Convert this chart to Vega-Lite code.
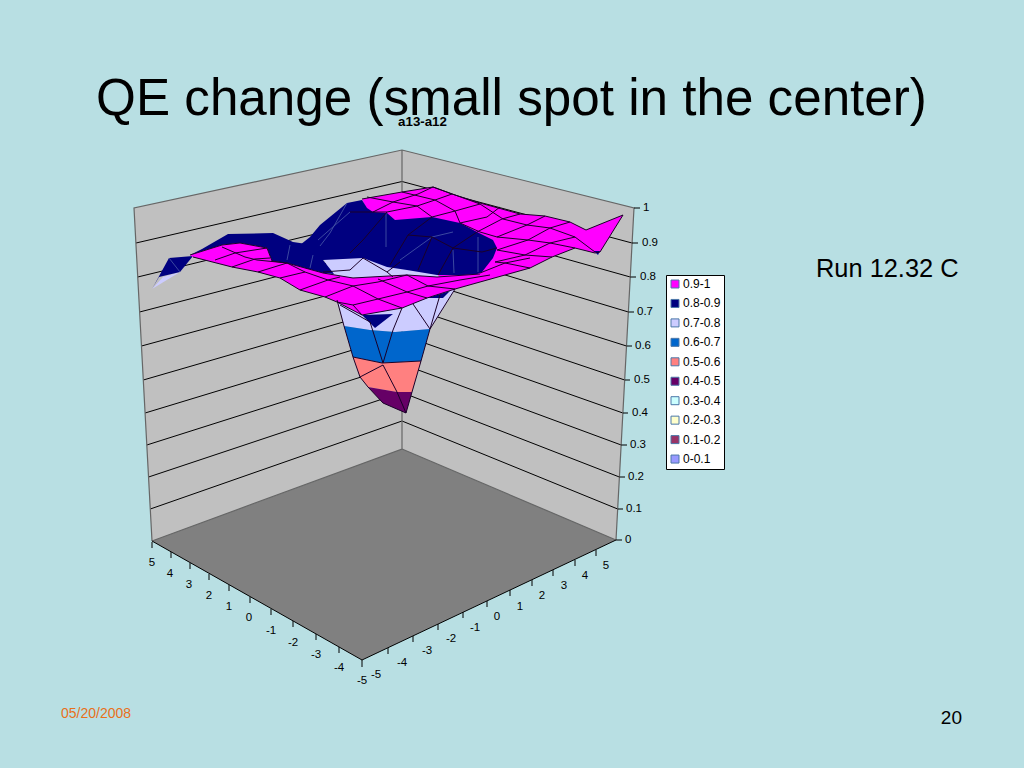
{"$schema":"https://vega.github.io/schema/vega-lite/v6.json","width":1024,"height":768,"padding":0,"autosize":{"type":"none"},"background":"#B8DFE3","config":{"view":{"stroke":null}},
"encoding":{"x":{"field":"a","type":"quantitative","scale":{"domain":[0,1024],"nice":false,"zero":false},"axis":null},"y":{"field":"b","type":"quantitative","scale":{"domain":[768,0],"nice":false,"zero":false},"axis":null}},
"datasets":{
"back":[
{"p":"wl","i":0,"a":402,"b":150,"k":"wall"},{"p":"wl","i":1,"a":134,"b":208,"k":"wall"},{"p":"wl","i":2,"a":152,"b":541,"k":"wall"},{"p":"wl","i":3,"a":402,"b":449,"k":"wall"},{"p":"wl","i":4,"a":402,"b":150,"k":"wall"},
{"p":"wr","i":0,"a":402,"b":150,"k":"wall"},{"p":"wr","i":1,"a":634,"b":208,"k":"wall"},{"p":"wr","i":2,"a":616,"b":540,"k":"wall"},{"p":"wr","i":3,"a":402,"b":449,"k":"wall"},{"p":"wr","i":4,"a":402,"b":150,"k":"wall"},
{"p":"fl","i":0,"a":402,"b":449,"k":"floor"},{"p":"fl","i":1,"a":616,"b":540,"k":"floor"},{"p":"fl","i":2,"a":362,"b":660,"k":"floor"},{"p":"fl","i":3,"a":152,"b":541,"k":"floor"},{"p":"fl","i":4,"a":402,"b":449,"k":"floor"}],
"grid":[
{"p":"l1","i":0,"a":150.3,"b":509},{"p":"l1","i":1,"a":402,"b":421},{"p":"l1","i":2,"a":617.7,"b":509},
{"p":"l2","i":0,"a":148.6,"b":477},{"p":"l2","i":1,"a":402,"b":392.5},{"p":"l2","i":2,"a":619.4,"b":477},
{"p":"l3","i":0,"a":146.8,"b":445},{"p":"l3","i":1,"a":402,"b":364},{"p":"l3","i":2,"a":621.2,"b":445},
{"p":"l4","i":0,"a":145.1,"b":413},{"p":"l4","i":1,"a":402,"b":335},{"p":"l4","i":2,"a":622.9,"b":413},
{"p":"l5","i":0,"a":143.3,"b":380},{"p":"l5","i":1,"a":402,"b":305},{"p":"l5","i":2,"a":624.7,"b":380},
{"p":"l6","i":0,"a":141.5,"b":346},{"p":"l6","i":1,"a":402,"b":275},{"p":"l6","i":2,"a":626.5,"b":346},
{"p":"l7","i":0,"a":139.6,"b":312},{"p":"l7","i":1,"a":402,"b":244},{"p":"l7","i":2,"a":628.4,"b":312},
{"p":"l8","i":0,"a":137.7,"b":277},{"p":"l8","i":1,"a":402,"b":213},{"p":"l8","i":2,"a":630.3,"b":277},
{"p":"l9","i":0,"a":136,"b":243},{"p":"l9","i":1,"a":402,"b":181.5},{"p":"l9","i":2,"a":632,"b":243}],
"frame":[
{"p":"e1","i":0,"a":152,"b":541},{"p":"e1","i":1,"a":134,"b":208},{"p":"e1","i":2,"a":402,"b":150},{"p":"e1","i":3,"a":634,"b":208},{"p":"e1","i":4,"a":616,"b":540},
{"p":"e2","i":0,"a":402,"b":150},{"p":"e2","i":1,"a":402,"b":449},{"p":"e2","i":2,"a":152,"b":541},{"p":"e3","i":0,"a":402,"b":449},{"p":"e3","i":1,"a":616,"b":540}],
"axes":[
{"p":"f","i":0,"a":152,"b":541},{"p":"f","i":1,"a":362,"b":660},{"p":"f","i":2,"a":616,"b":540},
{"p":"z0","i":0,"a":616,"b":540},{"p":"z0","i":1,"a":622,"b":540},{"p":"z1","i":0,"a":617.7,"b":509},{"p":"z1","i":1,"a":623,"b":509},{"p":"z2","i":0,"a":619.4,"b":477},{"p":"z2","i":1,"a":625,"b":477},{"p":"z3","i":0,"a":621.2,"b":445},{"p":"z3","i":1,"a":627,"b":445},{"p":"z4","i":0,"a":622.9,"b":413},{"p":"z4","i":1,"a":628,"b":413},{"p":"z5","i":0,"a":624.7,"b":380},{"p":"z5","i":1,"a":630,"b":380},{"p":"z6","i":0,"a":626.5,"b":346},{"p":"z6","i":1,"a":632,"b":346},{"p":"z7","i":0,"a":628.4,"b":312},{"p":"z7","i":1,"a":634,"b":312},{"p":"z8","i":0,"a":630.3,"b":277},{"p":"z8","i":1,"a":636,"b":277},{"p":"z9","i":0,"a":632,"b":243},{"p":"z9","i":1,"a":638,"b":243},{"p":"z10","i":0,"a":634,"b":208},{"p":"z10","i":1,"a":640,"b":208},
{"p":"x0","i":0,"a":152,"b":542},{"p":"x0","i":1,"a":152,"b":548},{"p":"x1","i":0,"a":171,"b":552},{"p":"x1","i":1,"a":171,"b":558},{"p":"x2","i":0,"a":190,"b":563},{"p":"x2","i":1,"a":190,"b":569},{"p":"x3","i":0,"a":209,"b":574},{"p":"x3","i":1,"a":209,"b":580},{"p":"x4","i":0,"a":229,"b":585},{"p":"x4","i":1,"a":229,"b":591},{"p":"x5","i":0,"a":250,"b":597},{"p":"x5","i":1,"a":250,"b":603},{"p":"x6","i":0,"a":271,"b":609},{"p":"x6","i":1,"a":271,"b":615},{"p":"x7","i":0,"a":293,"b":621},{"p":"x7","i":1,"a":293,"b":627},{"p":"x8","i":0,"a":316,"b":634},{"p":"x8","i":1,"a":316,"b":640},{"p":"x9","i":0,"a":339,"b":647},{"p":"x9","i":1,"a":339,"b":653},{"p":"x10","i":0,"a":362,"b":660},{"p":"x10","i":1,"a":362,"b":667},
{"p":"y1","i":0,"a":388,"b":648},{"p":"y1","i":1,"a":388,"b":654},{"p":"y2","i":0,"a":413,"b":636},{"p":"y2","i":1,"a":413,"b":642},{"p":"y3","i":0,"a":438,"b":624},{"p":"y3","i":1,"a":438,"b":630},{"p":"y4","i":0,"a":463,"b":612},{"p":"y4","i":1,"a":463,"b":618},{"p":"y5","i":0,"a":487,"b":601},{"p":"y5","i":1,"a":487,"b":607},{"p":"y6","i":0,"a":510,"b":590},{"p":"y6","i":1,"a":510,"b":596},{"p":"y7","i":0,"a":532,"b":580},{"p":"y7","i":1,"a":532,"b":586},{"p":"y8","i":0,"a":553,"b":570},{"p":"y8","i":1,"a":553,"b":576},{"p":"y9","i":0,"a":575,"b":560},{"p":"y9","i":1,"a":575,"b":566},{"p":"y10","i":0,"a":596,"b":550},{"p":"y10","i":1,"a":596,"b":556}],
"surface":[
{"p":"c1","i":0,"a":337,"b":298,"k":"0.7-0.8"},{"p":"c1","i":1,"a":344,"b":326,"k":"0.7-0.8"},{"p":"c1","i":2,"a":370,"b":330,"k":"0.7-0.8"},{"p":"c1","i":3,"a":395,"b":332,"k":"0.7-0.8"},{"p":"c1","i":4,"a":430,"b":329,"k":"0.7-0.8"},{"p":"c1","i":5,"a":456,"b":288,"k":"0.7-0.8"},
{"p":"c2","i":0,"a":344,"b":326,"k":"0.6-0.7"},{"p":"c2","i":1,"a":353,"b":357,"k":"0.6-0.7"},{"p":"c2","i":2,"a":382,"b":363,"k":"0.6-0.7"},{"p":"c2","i":3,"a":421,"b":361,"k":"0.6-0.7"},{"p":"c2","i":4,"a":430,"b":329,"k":"0.6-0.7"},{"p":"c2","i":5,"a":395,"b":332,"k":"0.6-0.7"},{"p":"c2","i":6,"a":370,"b":330,"k":"0.6-0.7"},
{"p":"c3","i":0,"a":353,"b":357,"k":"0.5-0.6"},{"p":"c3","i":1,"a":360,"b":377,"k":"0.5-0.6"},{"p":"c3","i":2,"a":368,"b":387,"k":"0.5-0.6"},{"p":"c3","i":3,"a":397,"b":392,"k":"0.5-0.6"},{"p":"c3","i":4,"a":412,"b":392,"k":"0.5-0.6"},{"p":"c3","i":5,"a":421,"b":361,"k":"0.5-0.6"},{"p":"c3","i":6,"a":382,"b":363,"k":"0.5-0.6"},
{"p":"c4","i":0,"a":368,"b":387,"k":"0.4-0.5"},{"p":"c4","i":1,"a":383,"b":403,"k":"0.4-0.5"},{"p":"c4","i":2,"a":406,"b":413,"k":"0.4-0.5"},{"p":"c4","i":3,"a":412,"b":392,"k":"0.4-0.5"},{"p":"c4","i":4,"a":397,"b":392,"k":"0.4-0.5"},
{"p":"m1","i":0,"a":362,"b":199,"k":"0.9-1"},{"p":"m1","i":1,"a":402,"b":192,"k":"0.9-1"},{"p":"m1","i":2,"a":433,"b":187,"k":"0.9-1"},{"p":"m1","i":3,"a":452,"b":194,"k":"0.9-1"},{"p":"m1","i":4,"a":480,"b":203,"k":"0.9-1"},{"p":"m1","i":5,"a":520,"b":214,"k":"0.9-1"},{"p":"m1","i":6,"a":545,"b":216,"k":"0.9-1"},{"p":"m1","i":7,"a":570,"b":222,"k":"0.9-1"},{"p":"m1","i":8,"a":586,"b":230,"k":"0.9-1"},{"p":"m1","i":9,"a":623,"b":215,"k":"0.9-1"},{"p":"m1","i":10,"a":600,"b":252,"k":"0.9-1"},{"p":"m1","i":11,"a":595,"b":253,"k":"0.9-1"},{"p":"m1","i":12,"a":575,"b":248,"k":"0.9-1"},{"p":"m1","i":13,"a":552,"b":257,"k":"0.9-1"},{"p":"m1","i":14,"a":530,"b":268,"k":"0.9-1"},{"p":"m1","i":15,"a":505,"b":275,"k":"0.9-1"},{"p":"m1","i":16,"a":480,"b":280,"k":"0.9-1"},{"p":"m1","i":17,"a":440,"b":277,"k":"0.9-1"},{"p":"m1","i":18,"a":400,"b":240,"k":"0.9-1"},{"p":"m1","i":19,"a":367,"b":210,"k":"0.9-1"},
{"p":"n0","i":0,"a":594,"b":251,"k":"0.8-0.9"},{"p":"n0","i":1,"a":600,"b":251,"k":"0.8-0.9"},{"p":"n0","i":2,"a":598,"b":255,"k":"0.8-0.9"},
{"p":"lb","i":0,"a":307,"b":240,"k":"0.7-0.8"},{"p":"lb","i":1,"a":310,"b":237,"k":"0.7-0.8"},{"p":"lb","i":2,"a":316,"b":243,"k":"0.7-0.8"},
{"p":"la","i":0,"a":323,"b":258,"k":"0.7-0.8"},{"p":"la","i":1,"a":363,"b":256,"k":"0.7-0.8"},{"p":"la","i":2,"a":387,"b":266,"k":"0.7-0.8"},{"p":"la","i":3,"a":437,"b":274,"k":"0.7-0.8"},{"p":"la","i":4,"a":440,"b":279,"k":"0.7-0.8"},{"p":"la","i":5,"a":333,"b":277,"k":"0.7-0.8"},
{"p":"n1","i":0,"a":310,"b":237,"k":"0.8-0.9"},{"p":"n1","i":1,"a":320,"b":225,"k":"0.8-0.9"},{"p":"n1","i":2,"a":347,"b":203,"k":"0.8-0.9"},{"p":"n1","i":3,"a":362,"b":200,"k":"0.8-0.9"},{"p":"n1","i":4,"a":367,"b":208,"k":"0.8-0.9"},{"p":"n1","i":5,"a":373,"b":212,"k":"0.8-0.9"},{"p":"n1","i":6,"a":387,"b":213,"k":"0.8-0.9"},{"p":"n1","i":7,"a":395,"b":220,"k":"0.8-0.9"},{"p":"n1","i":8,"a":432,"b":217,"k":"0.8-0.9"},{"p":"n1","i":9,"a":460,"b":223,"k":"0.8-0.9"},{"p":"n1","i":10,"a":477,"b":232,"k":"0.8-0.9"},{"p":"n1","i":11,"a":493,"b":240,"k":"0.8-0.9"},{"p":"n1","i":12,"a":497,"b":248,"k":"0.8-0.9"},{"p":"n1","i":13,"a":493,"b":258,"k":"0.8-0.9"},{"p":"n1","i":14,"a":482,"b":272,"k":"0.8-0.9"},{"p":"n1","i":15,"a":475,"b":275,"k":"0.8-0.9"},{"p":"n1","i":16,"a":437,"b":275,"k":"0.8-0.9"},{"p":"n1","i":17,"a":407,"b":270,"k":"0.8-0.9"},{"p":"n1","i":18,"a":387,"b":267,"k":"0.8-0.9"},{"p":"n1","i":19,"a":363,"b":258,"k":"0.8-0.9"},{"p":"n1","i":20,"a":323,"b":258,"k":"0.8-0.9"},{"p":"n1","i":21,"a":300,"b":245,"k":"0.8-0.9"},
{"p":"n2","i":0,"a":190,"b":255,"k":"0.8-0.9"},{"p":"n2","i":1,"a":202,"b":249,"k":"0.8-0.9"},{"p":"n2","i":2,"a":228,"b":234,"k":"0.8-0.9"},{"p":"n2","i":3,"a":273,"b":233,"k":"0.8-0.9"},{"p":"n2","i":4,"a":293,"b":242,"k":"0.8-0.9"},{"p":"n2","i":5,"a":320,"b":246,"k":"0.8-0.9"},{"p":"n2","i":6,"a":350,"b":253,"k":"0.8-0.9"},{"p":"n2","i":7,"a":363,"b":258,"k":"0.8-0.9"},{"p":"n2","i":8,"a":323,"b":260,"k":"0.8-0.9"},{"p":"n2","i":9,"a":334,"b":274,"k":"0.8-0.9"},{"p":"n2","i":10,"a":323,"b":273,"k":"0.8-0.9"},{"p":"n2","i":11,"a":287,"b":263,"k":"0.8-0.9"},{"p":"n2","i":12,"a":272,"b":261,"k":"0.8-0.9"},{"p":"n2","i":13,"a":267,"b":248,"k":"0.8-0.9"},{"p":"n2","i":14,"a":240,"b":243,"k":"0.8-0.9"},{"p":"n2","i":15,"a":222,"b":245,"k":"0.8-0.9"},
{"p":"t1","i":0,"a":152,"b":289,"k":"0.7-0.8"},{"p":"t1","i":1,"a":163,"b":277,"k":"0.7-0.8"},{"p":"t1","i":2,"a":180,"b":272,"k":"0.7-0.8"},
{"p":"t2","i":0,"a":169,"b":258,"k":"0.8-0.9"},{"p":"t2","i":1,"a":193,"b":256,"k":"0.8-0.9"},{"p":"t2","i":2,"a":180,"b":272,"k":"0.8-0.9"},{"p":"t2","i":3,"a":159,"b":277,"k":"0.8-0.9"},{"p":"t2","i":4,"a":152,"b":289,"k":"0.8-0.9"},
{"p":"m2","i":0,"a":190,"b":255,"k":"0.9-1"},{"p":"m2","i":1,"a":222,"b":245,"k":"0.9-1"},{"p":"m2","i":2,"a":240,"b":243,"k":"0.9-1"},{"p":"m2","i":3,"a":267,"b":248,"k":"0.9-1"},{"p":"m2","i":4,"a":272,"b":261,"k":"0.9-1"},{"p":"m2","i":5,"a":287,"b":263,"k":"0.9-1"},{"p":"m2","i":6,"a":323,"b":273,"k":"0.9-1"},{"p":"m2","i":7,"a":353,"b":278,"k":"0.9-1"},{"p":"m2","i":8,"a":407,"b":275,"k":"0.9-1"},{"p":"m2","i":9,"a":437,"b":277,"k":"0.9-1"},{"p":"m2","i":10,"a":490,"b":273,"k":"0.9-1"},{"p":"m2","i":11,"a":505,"b":275,"k":"0.9-1"},{"p":"m2","i":12,"a":455,"b":289,"k":"0.9-1"},{"p":"m2","i":13,"a":427,"b":298,"k":"0.9-1"},{"p":"m2","i":14,"a":402,"b":308,"k":"0.9-1"},{"p":"m2","i":15,"a":362,"b":315,"k":"0.9-1"},{"p":"m2","i":16,"a":337,"b":302,"k":"0.9-1"},{"p":"m2","i":17,"a":325,"b":297,"k":"0.9-1"},{"p":"m2","i":18,"a":300,"b":290,"k":"0.9-1"},{"p":"m2","i":19,"a":280,"b":278,"k":"0.9-1"},{"p":"m2","i":20,"a":258,"b":272,"k":"0.9-1"},{"p":"m2","i":21,"a":232,"b":267,"k":"0.9-1"},{"p":"m2","i":22,"a":193,"b":257,"k":"0.9-1"},
{"p":"n3","i":0,"a":362,"b":315,"k":"0.8-0.9"},{"p":"n3","i":1,"a":375,"b":328,"k":"0.8-0.9"},{"p":"n3","i":2,"a":393,"b":314,"k":"0.8-0.9"},
{"p":"n4","i":0,"a":427,"b":298,"k":"0.8-0.9"},{"p":"n4","i":1,"a":450,"b":291,"k":"0.8-0.9"},{"p":"n4","i":2,"a":443,"b":298,"k":"0.8-0.9"}],
"navymesh":[
{"p":"a","i":0,"a":347,"b":203},{"p":"a","i":1,"a":330,"b":233},{"p":"a","i":2,"a":320,"b":246},
{"p":"b","i":0,"a":350,"b":212},{"p":"b","i":1,"a":318,"b":240},
{"p":"c","i":0,"a":386,"b":213},{"p":"c","i":1,"a":386,"b":247},
{"p":"d","i":0,"a":432,"b":237},{"p":"d","i":1,"a":400,"b":260},
{"p":"e","i":0,"a":453,"b":250},{"p":"e","i":1,"a":454,"b":273},
{"p":"f","i":0,"a":478,"b":237},{"p":"f","i":1,"a":478,"b":272},
{"p":"g","i":0,"a":453,"b":232},{"p":"g","i":1,"a":432,"b":237},
{"p":"n","i":0,"a":290,"b":245},{"p":"n","i":1,"a":287,"b":260},{"p":"q","i":0,"a":313,"b":255},{"p":"q","i":1,"a":310,"b":268},
{"p":"r","i":0,"a":169,"b":258},{"p":"r","i":1,"a":180,"b":272}],
"mesh":[
{"p":"u1","i":0,"a":387,"b":212},{"p":"u1","i":1,"a":363,"b":240},{"p":"u1","i":2,"a":350,"b":253},
{"p":"u2","i":0,"a":350,"b":212},{"p":"u2","i":1,"a":387,"b":212},
{"p":"u3","i":0,"a":432,"b":217},{"p":"u3","i":1,"a":408,"b":235},{"p":"u3","i":2,"a":390,"b":265},
{"p":"u4","i":0,"a":408,"b":235},{"p":"u4","i":1,"a":432,"b":237},{"p":"u4","i":2,"a":418,"b":270},
{"p":"u5","i":0,"a":432,"b":237},{"p":"u5","i":1,"a":453,"b":248},{"p":"u5","i":2,"a":482,"b":252},{"p":"u5","i":3,"a":497,"b":248},
{"p":"u6","i":0,"a":477,"b":232},{"p":"u6","i":1,"a":453,"b":248},{"p":"u6","i":2,"a":438,"b":275},
{"p":"u7","i":0,"a":323,"b":272},{"p":"u7","i":1,"a":350,"b":270},{"p":"u7","i":2,"a":363,"b":258},{"p":"u7","i":3,"a":387,"b":272},{"p":"u7","i":4,"a":393,"b":277},
{"p":"u8","i":0,"a":387,"b":272},{"p":"u8","i":1,"a":400,"b":262},
{"p":"da","i":0,"a":367,"b":197},{"p":"da","i":1,"a":393,"b":202},{"p":"da","i":2,"a":417,"b":206},{"p":"da","i":3,"a":432,"b":217},
{"p":"db","i":0,"a":402,"b":192},{"p":"db","i":1,"a":435,"b":200},{"p":"db","i":2,"a":455,"b":211},{"p":"db","i":3,"a":460,"b":223},
{"p":"dc","i":0,"a":433,"b":187},{"p":"dc","i":1,"a":480,"b":204},{"p":"dc","i":2,"a":503,"b":219},{"p":"dc","i":3,"a":527,"b":225},{"p":"dc","i":4,"a":550,"b":228},{"p":"dc","i":5,"a":575,"b":237},{"p":"dc","i":6,"a":595,"b":252},
{"p":"dd","i":0,"a":460,"b":223},{"p":"dd","i":1,"a":480,"b":232},{"p":"dd","i":2,"a":497,"b":237},{"p":"dd","i":3,"a":528,"b":240},{"p":"dd","i":4,"a":550,"b":243},{"p":"dd","i":5,"a":575,"b":248},
{"p":"de","i":0,"a":497,"b":250},{"p":"de","i":1,"a":525,"b":255},{"p":"de","i":2,"a":552,"b":257},
{"p":"df","i":0,"a":495,"b":262},{"p":"df","i":1,"a":505,"b":263},{"p":"df","i":2,"a":530,"b":268},
{"p":"ra","i":0,"a":373,"b":212},{"p":"ra","i":1,"a":393,"b":202},{"p":"ra","i":2,"a":418,"b":194},{"p":"ra","i":3,"a":433,"b":187},
{"p":"rb","i":0,"a":387,"b":212},{"p":"rb","i":1,"a":417,"b":206},{"p":"rb","i":2,"a":435,"b":200},{"p":"rb","i":3,"a":452,"b":194},
{"p":"rc","i":0,"a":432,"b":217},{"p":"rc","i":1,"a":455,"b":211},{"p":"rc","i":2,"a":480,"b":204},
{"p":"rd","i":0,"a":460,"b":223},{"p":"rd","i":1,"a":487,"b":217},{"p":"rd","i":2,"a":500,"b":207},
{"p":"re","i":0,"a":477,"b":232},{"p":"re","i":1,"a":502,"b":219},{"p":"re","i":2,"a":520,"b":214},
{"p":"rf","i":0,"a":497,"b":237},{"p":"rf","i":1,"a":527,"b":225},{"p":"rf","i":2,"a":545,"b":216},
{"p":"rg","i":0,"a":497,"b":250},{"p":"rg","i":1,"a":528,"b":240},{"p":"rg","i":2,"a":550,"b":228},{"p":"rg","i":3,"a":570,"b":222},
{"p":"rh","i":0,"a":495,"b":262},{"p":"rh","i":1,"a":525,"b":255},{"p":"rh","i":2,"a":550,"b":243},{"p":"rh","i":3,"a":575,"b":237},
{"p":"ri","i":0,"a":480,"b":273},{"p":"ri","i":1,"a":505,"b":263},{"p":"ri","i":2,"a":530,"b":258},
{"p":"s1","i":0,"a":215,"b":260},{"p":"s1","i":1,"a":235,"b":253},{"p":"s1","i":2,"a":267,"b":248},
{"p":"s2","i":0,"a":232,"b":267},{"p":"s2","i":1,"a":255,"b":259},{"p":"s2","i":2,"a":270,"b":258},
{"p":"s3","i":0,"a":258,"b":272},{"p":"s3","i":1,"a":287,"b":263},
{"p":"s4","i":0,"a":280,"b":278},{"p":"s4","i":1,"a":305,"b":272},
{"p":"s5","i":0,"a":300,"b":290},{"p":"s5","i":1,"a":328,"b":280},{"p":"s5","i":2,"a":340,"b":277},
{"p":"s6","i":0,"a":325,"b":297},{"p":"s6","i":1,"a":353,"b":286},{"p":"s6","i":2,"a":378,"b":282},{"p":"s6","i":3,"a":407,"b":275},
{"p":"s7","i":0,"a":222,"b":247},{"p":"s7","i":1,"a":245,"b":257},{"p":"s7","i":2,"a":257,"b":260},{"p":"s7","i":3,"a":287,"b":263},{"p":"s7","i":4,"a":305,"b":272},{"p":"s7","i":5,"a":328,"b":280},{"p":"s7","i":6,"a":353,"b":286},{"p":"s7","i":7,"a":378,"b":299},{"p":"s7","i":8,"a":402,"b":308},
{"p":"s8","i":0,"a":337,"b":302},{"p":"s8","i":1,"a":353,"b":305},{"p":"s8","i":2,"a":378,"b":299},{"p":"s8","i":3,"a":407,"b":292},{"p":"s8","i":4,"a":428,"b":286},{"p":"s8","i":5,"a":460,"b":280},{"p":"s8","i":6,"a":490,"b":275},
{"p":"s9","i":0,"a":378,"b":279},{"p":"s9","i":1,"a":407,"b":292},{"p":"s9","i":2,"a":427,"b":298},
{"p":"s10","i":0,"a":407,"b":275},{"p":"s10","i":1,"a":428,"b":286},{"p":"s10","i":2,"a":455,"b":289},
{"p":"s11","i":0,"a":353,"b":305},{"p":"s11","i":1,"a":362,"b":315},
{"p":"d1","i":0,"a":340,"b":305},{"p":"d1","i":1,"a":370,"b":322},{"p":"d1","i":2,"a":383,"b":363},{"p":"d1","i":3,"a":393,"b":330},{"p":"d1","i":4,"a":402,"b":308},
{"p":"d2","i":0,"a":413,"b":304},{"p":"d2","i":1,"a":430,"b":329},{"p":"d2","i":2,"a":440,"b":295},
{"p":"d2b","i":0,"a":430,"b":329},{"p":"d2b","i":1,"a":455,"b":289},
{"p":"d3","i":0,"a":344,"b":326},{"p":"d3","i":1,"a":353,"b":357},{"p":"d3","i":2,"a":360,"b":377},{"p":"d3","i":3,"a":368,"b":387},{"p":"d3","i":4,"a":383,"b":403},{"p":"d3","i":5,"a":406,"b":413},{"p":"d3","i":6,"a":412,"b":392},{"p":"d3","i":7,"a":421,"b":361},{"p":"d3","i":8,"a":430,"b":329},
{"p":"d4","i":0,"a":383,"b":365},{"p":"d4","i":1,"a":360,"b":377},{"p":"d5","i":0,"a":383,"b":365},{"p":"d5","i":1,"a":397,"b":392},{"p":"d5","i":2,"a":406,"b":413},
{"p":"d6","i":0,"a":353,"b":357},{"p":"d6","i":1,"a":382,"b":363},{"p":"d6","i":2,"a":421,"b":361},
{"p":"d7","i":0,"a":337,"b":300},{"p":"d7","i":1,"a":344,"b":326},
{"p":"o1","i":0,"a":190,"b":255},{"p":"o1","i":1,"a":222,"b":245},{"p":"o1","i":2,"a":240,"b":243},{"p":"o1","i":3,"a":267,"b":248},{"p":"o1","i":4,"a":272,"b":261},{"p":"o1","i":5,"a":287,"b":263},{"p":"o1","i":6,"a":323,"b":273},{"p":"o1","i":7,"a":353,"b":278},{"p":"o1","i":8,"a":407,"b":275},{"p":"o1","i":9,"a":437,"b":277},{"p":"o1","i":10,"a":480,"b":274},
{"p":"o2","i":0,"a":193,"b":257},{"p":"o2","i":1,"a":232,"b":267},{"p":"o2","i":2,"a":258,"b":272},{"p":"o2","i":3,"a":280,"b":278},{"p":"o2","i":4,"a":300,"b":290},{"p":"o2","i":5,"a":325,"b":297},{"p":"o2","i":6,"a":337,"b":302},{"p":"o2","i":7,"a":362,"b":315},{"p":"o2","i":8,"a":402,"b":308},{"p":"o2","i":9,"a":427,"b":298},{"p":"o2","i":10,"a":455,"b":289},{"p":"o2","i":11,"a":505,"b":275},{"p":"o2","i":12,"a":530,"b":268},{"p":"o2","i":13,"a":552,"b":257},{"p":"o2","i":14,"a":575,"b":248},{"p":"o2","i":15,"a":595,"b":253},{"p":"o2","i":16,"a":600,"b":252},{"p":"o2","i":17,"a":623,"b":215},{"p":"o2","i":18,"a":586,"b":230},{"p":"o2","i":19,"a":570,"b":222},{"p":"o2","i":20,"a":545,"b":216},{"p":"o2","i":21,"a":520,"b":214},{"p":"o2","i":22,"a":480,"b":203},{"p":"o2","i":23,"a":452,"b":194},{"p":"o2","i":24,"a":433,"b":187},{"p":"o2","i":25,"a":402,"b":192},{"p":"o2","i":26,"a":362,"b":199}],
"small":[
{"t":"1","a":643,"b":208},{"t":"0.9","a":642,"b":243},{"t":"0.8","a":640,"b":277},{"t":"0.7","a":637,"b":312},{"t":"0.6","a":635,"b":346},{"t":"0.5","a":634,"b":380},{"t":"0.4","a":632,"b":413},{"t":"0.3","a":630,"b":445},{"t":"0.2","a":628,"b":477},{"t":"0.1","a":626,"b":509},{"t":"0","a":625,"b":540}],
"ticks":[
{"t":"5","a":152,"b":563},{"t":"4","a":170,"b":574},{"t":"3","a":189,"b":585},{"t":"2","a":209,"b":596},{"t":"1","a":229,"b":607},{"t":"0","a":249,"b":618},{"t":"-1","a":271,"b":631},{"t":"-2","a":293,"b":643},{"t":"-3","a":316,"b":655},{"t":"-4","a":339,"b":668},{"t":"-5","a":362,"b":681},
{"t":"-5","a":376,"b":675},{"t":"-4","a":402,"b":663},{"t":"-3","a":427,"b":651},{"t":"-2","a":451,"b":639},{"t":"-1","a":475,"b":628},{"t":"0","a":497,"b":617},{"t":"1","a":520,"b":607},{"t":"2","a":542,"b":596},{"t":"3","a":564,"b":586},{"t":"4","a":585,"b":576},{"t":"5","a":606,"b":566}]
},
"layer":[
{"data":{"name":"back"},"mark":{"type":"line","strokeWidth":0},"encoding":{"detail":{"field":"p"},"order":{"field":"i"},"fill":{"field":"k","type":"nominal","title":null,"scale":{"domain":["0.9-1","0.8-0.9","0.7-0.8","0.6-0.7","0.5-0.6","0.4-0.5","0.3-0.4","0.2-0.3","0.1-0.2","0-0.1","wall","floor"],"range":["#FF00FF","#000080","#CCCCFF","#0066CC","#FF8080","#660066","#CCFFFF","#FFFFCC","#993366","#9999FF","#C0C0C0","#808080"]},"legend":{"values":["0.9-1","0.8-0.9","0.7-0.8","0.6-0.7","0.5-0.6","0.4-0.5","0.3-0.4","0.2-0.3","0.1-0.2","0-0.1"],"orient":"none","legendX":666,"legendY":275,"padding":3,"strokeColor":"#000","fillColor":"#fff","symbolType":"square","symbolSize":64,"symbolStrokeColor":"#000","symbolStrokeWidth":1,"labelFont":"Liberation Sans","labelFontSize":12,"labelColor":"#000","labelOffset":2,"rowPadding":7.45,"title":null}}}},
{"data":{"name":"grid"},"mark":{"type":"line","stroke":"#000","strokeWidth":1},"encoding":{"detail":{"field":"p"},"order":{"field":"i"}}},
{"data":{"name":"frame"},"mark":{"type":"line","stroke":"#666","strokeWidth":1.2},"encoding":{"detail":{"field":"p"},"order":{"field":"i"}}},
{"data":{"name":"axes"},"mark":{"type":"line","stroke":"#000","strokeWidth":1},"encoding":{"detail":{"field":"p"},"order":{"field":"i"}}},
{"data":{"name":"surface"},"mark":{"type":"line","strokeWidth":0},"encoding":{"detail":{"field":"p"},"order":{"field":"i"},"fill":{"field":"k","type":"nominal"}}},
{"data":{"name":"navymesh"},"mark":{"type":"line","stroke":"#4A5AA8","strokeWidth":0.8},"encoding":{"detail":{"field":"p"},"order":{"field":"i"}}},
{"data":{"name":"mesh"},"mark":{"type":"line","stroke":"#1A0028","strokeWidth":1},"encoding":{"detail":{"field":"p"},"order":{"field":"i"}}},
{"data":{"name":"small"},"mark":{"type":"text","font":"Liberation Sans","fontSize":11.5,"align":"left","baseline":"middle","color":"#000"},"encoding":{"text":{"field":"t"}}},
{"data":{"name":"ticks"},"mark":{"type":"text","font":"Liberation Sans","fontSize":11.5,"align":"center","baseline":"middle","color":"#000"},"encoding":{"text":{"field":"t"}}},
{"data":{"values":[{"t":"QE change (small spot in the center)","a":511.5,"b":115}]},"mark":{"type":"text","font":"Liberation Sans","fontSize":51.2,"align":"center","baseline":"alphabetic","color":"#000"},"encoding":{"text":{"field":"t"}}},
{"data":{"values":[{"t":"a13-a12","a":422.5,"b":122}]},"mark":{"type":"text","font":"Liberation Sans","fontSize":13.3,"fontWeight":"bold","align":"center","baseline":"middle","color":"#000"},"encoding":{"text":{"field":"t"}}},
{"data":{"values":[{"t":"Run 12.32 C","a":816,"b":277}]},"mark":{"type":"text","font":"Liberation Sans","fontSize":25.4,"align":"left","baseline":"alphabetic","color":"#000"},"encoding":{"text":{"field":"t"}}},
{"data":{"values":[{"t":"05/20/2008","a":61,"b":718}]},"mark":{"type":"text","font":"Liberation Sans","fontSize":14,"align":"left","baseline":"alphabetic","color":"#E8701A"},"encoding":{"text":{"field":"t"}}},
{"data":{"values":[{"t":"20","a":962,"b":724}]},"mark":{"type":"text","font":"Liberation Sans","fontSize":19,"align":"right","baseline":"alphabetic","color":"#000"},"encoding":{"text":{"field":"t"}}}
]}
